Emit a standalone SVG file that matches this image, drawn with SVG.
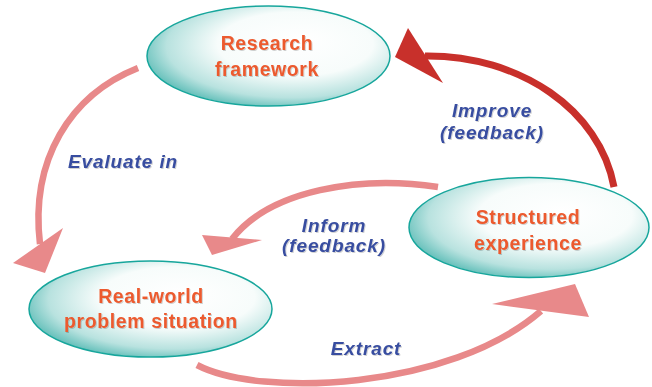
<svg xmlns="http://www.w3.org/2000/svg" width="652" height="387" viewBox="0 0 652 387">
<defs>
<radialGradient id="g" cx="0.58" cy="0.42" r="0.64" fx="0.64" fy="0.34">
<stop offset="0" stop-color="#ffffff"/>
<stop offset="0.5" stop-color="#f7fcfb"/>
<stop offset="0.8" stop-color="#b8e2df"/>
<stop offset="1" stop-color="#52b8b2"/>
</radialGradient>
<filter id="sh" x="-10%" y="-10%" width="120%" height="130%">
<feDropShadow dx="1" dy="1" stdDeviation="0.6" flood-color="#000" flood-opacity="0.18"/>
</filter>
</defs>
<style>
.node ellipse{fill:url(#g);stroke:#17a69c;stroke-width:1.5}
.node text{font-family:"Liberation Sans",Arial,sans-serif;font-weight:bold;font-size:19.5px;letter-spacing:0.6px;fill:#ec5a2f;text-anchor:middle;filter:url(#sh)}
.lbl{font-family:"Liberation Sans",Arial,sans-serif;font-weight:bold;font-style:italic;font-size:19px;letter-spacing:0.9px;fill:#394ea0;text-anchor:middle;filter:url(#sh)}
.pink{fill:none;stroke:#e8898a;stroke-width:6.5}
.red{fill:none;stroke:#c8302b;stroke-width:7}
.ph{fill:#e8898a}
.rh{fill:#c8302b}
</style>
<rect width="652" height="387" fill="#ffffff"/>
<g id="connectors">
<g id="evaluate">
<path class="pink" d="M138,68 C70,95 30,160 40,244"/>
<polygon class="ph" points="13,263 63,228 45,273"/>
</g>
<g id="improve">
<path class="red" d="M614,187 C600,110 520,55 425,56"/>
<polygon class="rh" points="408,28 395,57 443,83"/>
</g>
<g id="inform">
<path class="pink" d="M438,187 C360,175 270,190 232,239" stroke-width="6"/>
<polygon class="ph" points="202,235 262,240 212,255"/>
</g>
<g id="extract">
<path class="pink" d="M197,365 C260,398 450,390 541,311" stroke-width="7"/>
<polygon class="ph" points="492,304 575,284 589,317"/>
</g>
<text class="lbl" x="123" y="168">Evaluate in</text>
<text class="lbl" x="492" y="117">Improve</text>
<text class="lbl" x="492" y="139">(feedback)</text>
<text class="lbl" x="334" y="232">Inform</text>
<text class="lbl" x="334" y="252">(feedback)</text>
<text class="lbl" x="366" y="355">Extract</text>
</g>
<g id="research" class="node">
<ellipse cx="268.5" cy="56" rx="121.5" ry="50"/>
<text x="267" y="50">Research</text>
<text x="267" y="76">framework</text>
</g>
<g id="structured" class="node">
<ellipse cx="529" cy="227.5" rx="120" ry="50"/>
<text x="528" y="223.5">Structured</text>
<text x="528" y="249.5">experience</text>
</g>
<g id="realworld" class="node">
<ellipse cx="150.5" cy="309" rx="121.5" ry="48"/>
<text x="151" y="303">Real-world</text>
<text x="151" y="328">problem situation</text>
</g>
</svg>
